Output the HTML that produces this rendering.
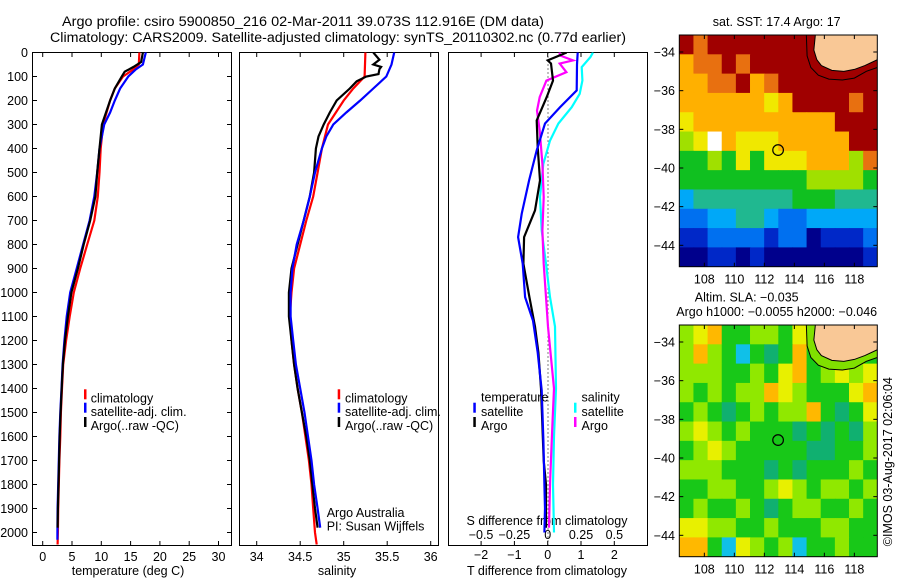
<!DOCTYPE html>
<html><head><meta charset="utf-8">
<style>
html,body{margin:0;padding:0;background:#fff;}
svg{display:block;font-family:"Liberation Sans",sans-serif;}
text{font-size:12.5px;fill:#000;}
</style></head>
<body>
<svg id="chart" width="900" height="580" viewBox="0 0 900 580" xmlns="http://www.w3.org/2000/svg">
<defs>
<clipPath id="c1"><rect x="32.5" y="52.5" width="199" height="493"/></clipPath>
<clipPath id="c2"><rect x="239.5" y="52.5" width="200" height="493"/></clipPath>
<clipPath id="c3"><rect x="448.5" y="52.5" width="199" height="493"/></clipPath>
<clipPath id="cm1"><rect x="679.3" y="35" width="198" height="231.7"/></clipPath>
<clipPath id="cm2"><rect x="679.3" y="325" width="198" height="231.7"/></clipPath>
</defs>
<text x="62" y="26" textLength="482" lengthAdjust="spacingAndGlyphs" style="font-size:13.5px">Argo profile: csiro 5900850_216 02-Mar-2011 39.073S 112.916E (DM data)</text>
<text x="50" y="42" textLength="576" lengthAdjust="spacingAndGlyphs" style="font-size:13.5px">Climatology: CARS2009. Satellite-adjusted climatology: synTS_20110302.nc (0.77d earlier)</text>
<g id="root"></g>
</svg>
<script>
// ---------- profile data (depth in m) ----------
const tClimDepth = [0,50,70,100,150,200,300,400,500,600,700,800,900,1000,1100,1200,1300,1400,1500,1600,1700,1800,1900,2000,2050];
const tClimVal   = [16.5,16.4,15.5,13.7,12.3,11.5,10.3,9.9,9.7,9.4,8.8,7.6,6.4,5.3,4.6,4.0,3.5,3.3,3.1,3.0,2.85,2.75,2.65,2.6,2.55];
const tSatDepth  = [0,50,70,100,150,200,250,300,400,500,600,700,800,900,1000,1100,1200,1300,1400,1500,1600,1700,1800,1900,2000,2030];
const tSatVal    = [17.6,17.1,15.9,14.6,13.2,12.3,11.5,10.5,9.7,9.3,8.8,8.0,6.9,5.8,4.7,4.1,3.7,3.4,3.2,3.0,2.85,2.75,2.65,2.55,2.5,2.5];
const tArgoDepth = [0,40,60,80,100,150,200,250,300,400,500,600,700,800,900,1000,1100,1200,1300,1400,1500,1600,1700,1800,1900,1980];
const tArgoVal   = [17.1,16.8,15.5,14.0,13.5,12.3,11.5,10.8,10.1,9.7,9.3,9.0,8.1,7.0,6.0,4.9,4.3,3.8,3.45,3.25,3.05,2.9,2.8,2.7,2.6,2.55];

const sClimDepth = [0,100,150,200,300,400,500,600,700,800,900,1000,1100,1200,1300,1400,1500,1600,1700,1800,1900,2000,2050];
const sClimVal   = [35.25,35.24,35.11,35.0,34.82,34.75,34.70,34.65,34.57,34.50,34.43,34.40,34.38,34.40,34.43,34.47,34.52,34.56,34.60,34.63,34.65,34.67,34.69];
const sSatDepth  = [0,50,100,150,200,250,300,350,400,500,600,700,800,900,1000,1100,1200,1300,1400,1500,1600,1700,1800,1900,1980];
const sSatVal    = [35.58,35.55,35.49,35.34,35.19,35.03,34.88,34.80,34.75,34.67,34.61,34.54,34.46,34.41,34.39,34.39,34.42,34.45,34.50,34.55,34.59,34.63,34.66,34.70,34.73];
const sArgoDepth = [0,30,50,60,70,90,100,120,150,200,250,300,350,400,500,600,700,800,900,1000,1100,1200,1300,1400,1500,1600,1700,1800,1900,1980];
const sArgoVal   = [35.34,35.41,35.34,35.43,35.41,35.40,35.26,35.15,35.07,34.92,34.84,34.77,34.71,34.68,34.66,34.61,34.54,34.47,34.40,34.37,34.37,34.40,34.43,34.47,34.52,34.57,34.61,34.64,34.67,34.70];

const dtSatDepth  = [0,50,158,228,296,408,533,672,769,880,1019,1117,1250,1408,1617,1800,1900,2000];
const dtSatVal    = [0.9,0.88,0.87,0.37,-0.08,-0.33,-0.56,-0.78,-0.89,-0.75,-0.68,-0.44,-0.3,-0.18,-0.13,-0.1,-0.08,-0.1];
const dtArgoDepth = [0,33,46,117,186,283,394,533,658,769,880,1019,1142,1250,1400,1700,1800,1950,1980];
const dtArgoVal   = [0.57,0.0,0.1,0.16,-0.03,-0.33,-0.3,-0.23,-0.38,-0.71,-0.73,-0.55,-0.38,-0.28,-0.2,-0.12,-0.05,-0.05,-0.05];
const dsSatDepth  = [0,19,61,117,172,228,296,367,464,603,742,880,1019,1142,1400,1600,1800,2000];
const dsSatVal    = [0.34,0.32,0.255,0.26,0.24,0.18,0.08,0.017,-0.033,-0.058,-0.045,-0.013,0.017,0.055,0.062,0.047,0.04,0.047];
const dsArgoDepth = [0,12,33,46,82,117,186,242,325,464,603,742,880,1019,1142,1400,1550,1800,1980];
const dsArgoVal   = [0.09,0.09,0.19,0.09,0.14,-0.01,-0.06,-0.08,-0.06,-0.04,-0.03,-0.04,-0.03,-0.013,0.002,0.047,0.035,0.017,0.01];

const depthTicks = [0,100,200,300,400,500,600,700,800,900,1000,1100,1200,1300,1400,1500,1600,1700,1800,1900,2000];
const tempTicks  = [0,5,10,15,20,25,30];
const salTicks   = [34,34.5,35,35.5,36];
const salTickLabels = ['34','34.5','35','35.5','36'];
const dtTicks    = [-2,-1,0,1,2];
const dsTicks    = [-0.5,-0.25,0,0.25,0.5];
const dsTickLabels = ['\u22120.5','\u22120.25','0','0.25','0.5'];

// ---------- map data ----------
const sstGrid = [
"R9RRRRRRRRRRRR",
"899R9RRRRRRRRR",
"8899R89RRRRRRR",
"88888878RRRR9R",
"78888888888RRR",
"67W877788888RR",
"55657577788869",
"55555555566665",
"34444444555444",
"22334432233333",
"11222212201112",
"00110100000001"];
const slaGrid = [
"lyoggllgylyggg",
"lolgcgtgogglgg",
"lllgglgyoglyly",
"lglglloylgggyo",
"glgtglgllogtgy",
"lylglgggtgtgtl",
"glylgggggttggl",
"lllgggtgtggglg",
"ggllgglylgllgl",
"glgglgtgllgglg",
"yyllgglgggllgg",
"oogcylglcgglgg"];
const sstPalette = {'0':'#00008c','1':'#0028c8','2':'#0070f0','3':'#00a8f8','4':'#20b890','5':'#10c020','6':'#a0e000','7':'#f0e800','8':'#ffb000','9':'#e87010','R':'#a00000','W':'#ffffff'};
const slaPalette = {'g':'#18c818','l':'#90e800','y':'#e8f000','o':'#ffb800','t':'#10b070','c':'#10c0e8'};
const coastLon = [115.4,115.3,115.5,115.8,116.5,117.3,118.0,118.7,119.53];
const coastLat = [-33.12,-33.9,-34.4,-34.7,-34.95,-35.0,-34.9,-34.7,-34.4];
const contourLon = [114.8,114.85,115.1,115.6,116.3,117.2,118.0,118.8,119.53];
const contourLat = [-33.12,-34.2,-34.8,-35.2,-35.4,-35.45,-35.35,-35.0,-34.8];
const argoLon = 112.916, argoLat = -39.073;
const lonTicks = [108,110,112,114,116,118];
const latTicks = [-34,-36,-38,-40,-42,-44];

// ---------- scales ----------
const NS='http://www.w3.org/2000/svg';
const root=document.getElementById('root');
function mk(tag, attrs, parent){const e=document.createElementNS(NS,tag);for(const k in attrs)e.setAttribute(k,attrs[k]);(parent||root).appendChild(e);return e;}
const yD = d => 52.5 + d*0.24;
const xT = t => 42.7 + t*5.86;
const xS = s => 256.7 + (s-34)*87;
const xDT = v => 547.7 + v*33.3;
const xDS = v => 547.7 + v*133.3;

function line(depths, vals, xf, color, clip, name){
  let pts=[];
  for(let i=0;i<depths.length;i++){pts.push(xf(vals[i]).toFixed(1)+','+yD(depths[i]).toFixed(1));}
  const p=mk('polyline',{points:pts.join(' '),fill:'none',stroke:color,'stroke-width':2.2,'clip-path':'url(#'+clip+')'});
  
  
}
function txt(x,y,s,anchor,name,size){
  const t=mk('text',{x:x,y:y,'text-anchor':anchor||'start'});
  if(size)t.style.fontSize=size+'px';
  t.textContent=s;
  
  
  return t;
}
function panel(x,name){
  const r=mk('rect',{x:x,y:52.5,width:199,height:493,fill:'none',stroke:'#000','stroke-width':1});
  
  
}
function xticks(vals,xf){
  vals.forEach(v=>{const x=xf(v);mk('line',{x1:x,x2:x,y1:52.5,y2:57,stroke:'#000'});mk('line',{x1:x,x2:x,y1:541,y2:545.5,stroke:'#000'});});
}
function legendBar(x,y,color,name){
  const b=mk('rect',{x:x,y:y-9,width:2.5,height:10,fill:color});
  
  
}

panel(32.5,'temperature-panel');
panel(239.5,'salinity-panel');
const p3=mk('rect',{x:448.5,y:52.5,width:199,height:493,fill:'none',stroke:'#000'});



depthTicks.forEach(d=>{
  const y=yD(d);
  mk('line',{x1:32.5,x2:37,y1:y,y2:y,stroke:'#000'});
  mk('line',{x1:227,x2:231.5,y1:y,y2:y,stroke:'#000'});
  txt(28,y+4.5,String(d),'end','depth-tick-label');
});
xticks(tempTicks,xT);
tempTicks.forEach(t=>txt(xT(t),561,String(t),'middle','temperature-tick-label'));
txt(128,575,'temperature (deg C)','middle','x-axis-title-temperature');

xticks(salTicks,xS);
salTicks.forEach((s,i)=>txt(xS(s),561,salTickLabels[i],'middle','salinity-tick-label'));
txt(337,575,'salinity','middle','x-axis-title-salinity');

dtTicks.forEach(v=>{const x=xDT(v);mk('line',{x1:x,x2:x,y1:52.5,y2:57,stroke:'#000'});mk('line',{x1:x,x2:x,y1:541,y2:545.5,stroke:'#000'});});
dtTicks.forEach(v=>txt(xDT(v),559,String(v).replace('-','\u2212'),'middle','t-diff-tick-label'));
dsTicks.forEach((v,i)=>txt(xDS(v),539,dsTickLabels[i],'middle','s-diff-tick-label'));
txt(547,525,'S difference from climatology','middle','s-diff-axis-title');
txt(547,575,'T difference from climatology','middle','x-axis-title-t-diff');
const zl=mk('line',{x1:548,x2:548,y1:52.5,y2:545.5,stroke:'#000','stroke-dasharray':'1,3'});



line(tClimDepth,tClimVal,xT,'#ff0000','c1','temperature-climatology-line');
line(tSatDepth,tSatVal,xT,'#0000ff','c1','temperature-satellite-line');
line(tArgoDepth,tArgoVal,xT,'#000000','c1','temperature-argo-line');
line(sClimDepth,sClimVal,xS,'#ff0000','c2','salinity-climatology-line');
line(sArgoDepth,sArgoVal,xS,'#000000','c2','salinity-argo-line');
line(sSatDepth,sSatVal,xS,'#0000ff','c2','salinity-satellite-line');
line(dsSatDepth,dsSatVal,xDS,'#00ffff','c3','s-diff-satellite-line');
line(dsArgoDepth,dsArgoVal,xDS,'#ff00ff','c3','s-diff-argo-line');
line(dtArgoDepth,dtArgoVal,xDT,'#000000','c3','t-diff-argo-line');
line(dtSatDepth,dtSatVal,xDT,'#0000ff','c3','t-diff-satellite-line');

[[84,90.7],[337.7,345]].forEach((p,k)=>{
  legendBar(p[0],398.3,'#ff0000','legend-climatology-swatch');
  legendBar(p[0],411.7,'#0000ff','legend-satellite-swatch');
  legendBar(p[0],426,'#000000','legend-argo-swatch');
  txt(p[1],402.5,'climatology','start','legend-climatology-label');
  txt(p[1],416,'satellite-adj. clim.','start','legend-satellite-label');
  txt(p[1],430,'Argo(..raw -QC)','start','legend-argo-label');
});
txt(481,401.5,'temperature','start','legend-temperature-heading');
txt(581.5,401.5,'salinity','start','legend-salinity-heading');
legendBar(473.3,411.7,'#0000ff','legend-t-satellite-swatch');
legendBar(473.3,426,'#000000','legend-t-argo-swatch');
legendBar(574,411.7,'#00ffff','legend-s-satellite-swatch');
legendBar(574,426,'#ff00ff','legend-s-argo-swatch');
txt(481,416,'satellite','start','legend-t-satellite-label');
txt(481,430,'Argo','start','legend-t-argo-label');
txt(581.5,416,'satellite','start','legend-s-satellite-label');
txt(581.5,430,'Argo','start','legend-s-argo-label');
txt(326.7,517,'Argo Australia','start','credit-argo-australia');
txt(326.7,530.5,'PI: Susan Wijffels','start','credit-pi');

const mapX0=679.3, mapW=198, mapH=231.7, lon0=106.33, lat0=-33.12;
const xL = lon => mapX0 + (lon-lon0)*15;
function drawMap(grid,pal,top,clip,name,between){
  const g=mk('g',{'clip-path':'url(#'+clip+')'});
  
  
  const yL = lat => top + (lat0-lat)*19.33;
  const rows=grid.length, cols=grid[0].length, cw=mapW/cols, ch=mapH/rows;
  for(let r=0;r<rows;r++)for(let c=0;c<cols;c++){
    mk('rect',{x:(mapX0+c*cw).toFixed(2),y:(top+r*ch).toFixed(2),width:(cw+0.6).toFixed(2),height:(ch+0.6).toFixed(2),fill:pal[grid[r][c]]},g);
  }
  let bp=[];
  for(let i=0;i<contourLon.length;i++)bp.push(xL(contourLon[i])+','+yL(contourLat[i]));
  bp.push(xL(119.6)+','+(top-1));
  mk('polygon',{points:bp.join(' '),fill:between},g);
  let lp=[];
  for(let i=0;i<coastLon.length;i++)lp.push(xL(coastLon[i])+','+yL(coastLat[i]));
  lp.push(xL(119.6)+','+(top-1));
  const land=mk('polygon',{points:lp.join(' '),fill:'#f9c896',stroke:'#000','stroke-width':1},g);
  
  
  let cp=[];
  for(let i=0;i<contourLon.length;i++)cp.push(xL(contourLon[i])+','+yL(contourLat[i]));
  mk('polyline',{points:cp.join(' '),fill:'none',stroke:'#000','stroke-width':1},g);
  const m=mk('circle',{cx:xL(argoLon),cy:yL(argoLat),r:5.3,fill:'none',stroke:'#000','stroke-width':1.2});
  
  
  const fr=mk('rect',{x:mapX0,y:top,width:mapW,height:mapH,fill:'none',stroke:'#000'});
  
  
  latTicks.forEach(l=>{const y=yL(l);mk('line',{x1:mapX0,x2:mapX0+4,y1:y,y2:y,stroke:'#000'});mk('line',{x1:mapX0+mapW-4,x2:mapX0+mapW,y1:y,y2:y,stroke:'#000'});
    txt(675,y+4.5,String(l).replace('-','\u2212'),'end','latitude-tick-label');});
  lonTicks.forEach(l=>{const x=xL(l);mk('line',{x1:x,x2:x,y1:top,y2:top+4,stroke:'#000'});mk('line',{x1:x,x2:x,y1:top+mapH-4,y2:top+mapH,stroke:'#000'});
    txt(x,top+mapH+17,String(l),'middle','longitude-tick-label');});
}
drawMap(sstGrid,sstPalette,35,'cm1','sst-map','#a00000');
drawMap(slaGrid,slaPalette,325,'cm2','sla-map','#80e000');
txt(776.7,26,'sat. SST: 17.4  Argo: 17','middle','sst-map-title');
txt(746.7,301.5,'Altim. SLA: \u22120.035','middle','sla-map-title');
txt(776.7,316,'Argo h1000: \u22120.0055 h2000: \u22120.046','middle','sla-map-subtitle');
const st=txt(0,0,'\u00a9IMOS 03-Aug-2017 02:06:04','middle','timestamp-label');
st.setAttribute('transform','translate(892,461.7) rotate(-90)');
</script>
</body></html>
